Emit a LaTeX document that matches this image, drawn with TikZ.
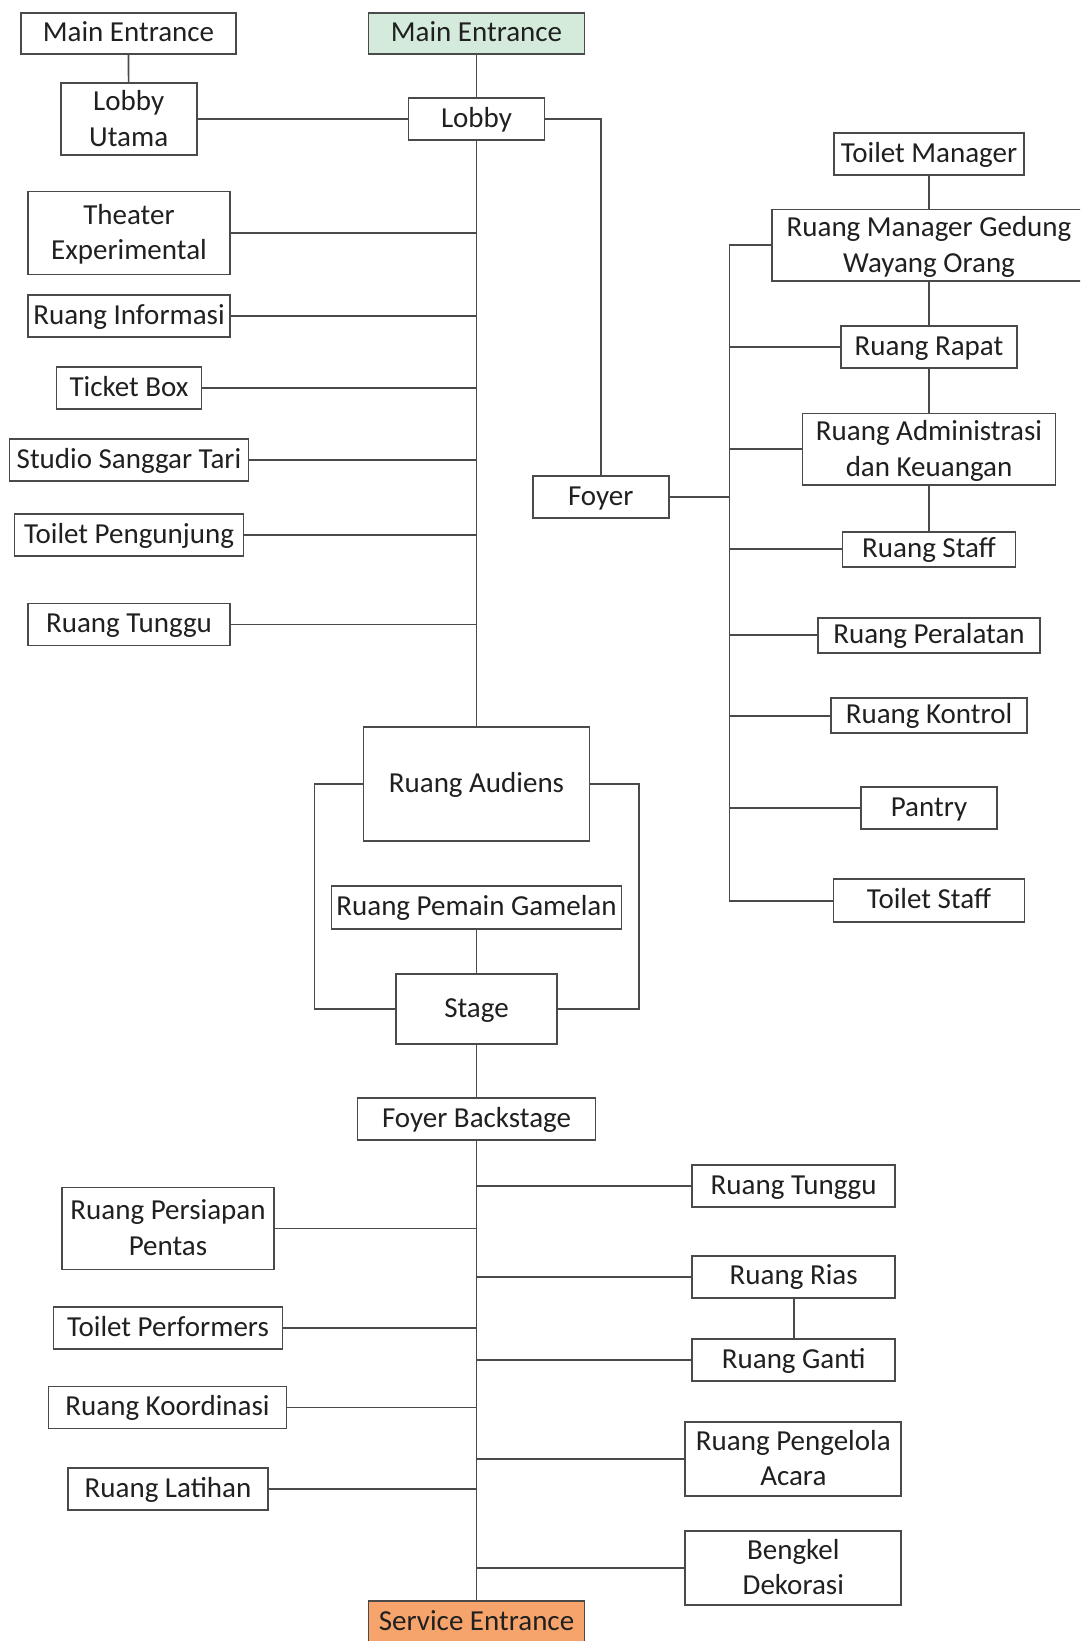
\documentclass[tikz,border=0pt]{standalone}
\usepackage{fontspec}
\setmainfont{Carlito}
\definecolor{bc}{HTML}{4A4A4A}
\definecolor{lc}{HTML}{4A4A4A}
\definecolor{tc}{HTML}{202020}
\definecolor{gfill}{HTML}{D4EBDC}
\definecolor{ofill}{HTML}{F7A46C}
\newcommand{\bstrut}{\rule[-9pt]{0pt}{34.5pt}}
\newcommand{\tstrut}{\rule[-9pt]{0pt}{36pt}}
\newcommand{\twoline}[2]{\tstrut#1\\#2\bstrut}
\begin{document}
\begin{tikzpicture}[x=1pt,y=-1pt,
  box/.style={draw=bc, line width=1.7pt, fill=white, text=tc, inner sep=0pt,
    align=center, font=\fontsize{29}{35.6}\selectfont,
    execute at begin node=\bstrut, execute at end node=\bstrut},
  link/.style={draw=lc, line width=1.7pt}]
\useasboundingbox (0,0) rectangle (1080,1641);
\clip (0,0) rectangle (1080,1641);
\fill[white] (0,0) rectangle (1080,1641);

% ---------- top ----------
\node[box, minimum width=215, minimum height=41] (meL) at (128.5,33.5) {Main Entrance};
\node[box, fill=gfill, minimum width=216, minimum height=41] (meG) at (476.5,33.5) {Main Entrance};
\node[box, minimum width=136, minimum height=72] (lobU) at (128.7,119.3) {\twoline{Lobby}{Utama}};
\node[box, minimum width=136, minimum height=42] (lob) at (476.5,119.3) {Lobby};

% ---------- left column ----------
\node[box, minimum width=202, minimum height=83] (theater) at (129,233) {\twoline{Theater}{Experimental}};
\node[box, minimum width=202, minimum height=42] (info) at (129,316) {Ruang Informasi};
\node[box, minimum width=145, minimum height=42] (ticket) at (129,388) {Ticket Box};
\node[box, minimum width=239, minimum height=42] (studio) at (129,460) {Studio Sanggar Tari};
\node[box, minimum width=229, minimum height=42] (toiletP) at (129,535) {Toilet Pengunjung};
\node[box, minimum width=202, minimum height=42] (tungguL) at (129,624.5) {Ruang Tunggu};

% ---------- centre ----------
\node[box, minimum width=226, minimum height=114] (aud) at (476.5,784) {Ruang Audiens};
\node[box, minimum width=290, minimum height=43] (gam) at (476.5,907.3) {Ruang Pemain Gamelan};
\node[box, minimum width=161, minimum height=70] (stage) at (476.5,1009) {Stage};
\node[box, minimum width=238, minimum height=42] (fb) at (476.5,1119) {Foyer Backstage};
\node[box, fill=ofill, minimum width=216, minimum height=42] (se) at (476.5,1622) {Service Entrance};
\coordinate (loopL) at (314.5,784);
\coordinate (loopR) at (639,784);

% ---------- bottom left ----------
\node[box, minimum width=212, minimum height=82] (persiapan) at (168,1228.5) {\twoline{Ruang Persiapan}{Pentas}};
\node[box, minimum width=229, minimum height=42] (tperf) at (168,1328) {Toilet Performers};
\node[box, minimum width=238, minimum height=42] (koord) at (167.5,1407.5) {Ruang Koordinasi};
\node[box, minimum width=200, minimum height=42] (latihan) at (168,1489) {Ruang Latihan};

% ---------- bottom right ----------
\node[box, minimum width=203, minimum height=42] (tungguR) at (793.7,1186.3) {Ruang Tunggu};
\node[box, minimum width=203, minimum height=42] (rias) at (793.7,1276.7) {Ruang Rias};
\node[box, minimum width=203, minimum height=42] (ganti) at (793.7,1360) {Ruang Ganti};
\node[box, minimum width=216, minimum height=74] (pengelola) at (793.3,1459) {\twoline{Ruang Pengelola}{Acara}};
\node[box, minimum width=216, minimum height=74] (bengkel) at (793.3,1568) {\twoline{Bengkel}{Dekorasi}};

% ---------- right ----------
\node[box, minimum width=136, minimum height=42] (foyer) at (600.7,497) {Foyer};
\node[box, minimum width=190, minimum height=42] (tm) at (929,154.3) {Toilet Manager};
\node[box, minimum width=314, minimum height=71] (rmg) at (929,245.3) {\twoline{Ruang Manager Gedung}{Wayang Orang}};
\node[box, minimum width=176, minimum height=42] (rapat) at (929,347.3) {Ruang Rapat};
\node[box, minimum width=253, minimum height=70] (admin) at (929,449.3) {\twoline{Ruang Administrasi}{dan Keuangan}};
\node[box, minimum width=173, minimum height=35] (staff) at (929,549.3) {Ruang Staff};
\node[box, minimum width=222, minimum height=35] (peral) at (929,635.3) {Ruang Peralatan};
\node[box, minimum width=196, minimum height=35] (kontrol) at (929,715.7) {Ruang Kontrol};
\node[box, minimum width=136, minimum height=42] (pantry) at (929,808.3) {Pantry};
\node[box, minimum width=191, minimum height=43] (tstaff) at (929,900.7) {Toilet Staff};
\coordinate (busT) at (729.4,245.3);
\coordinate (busB) at (729.4,900.7);

% ---------- connectors ----------
\path[link] (meL) -- (lobU);
\path[link] (meG) -- (lob);
\path[link] (lobU.east) -- (lobU.east -| lob.west);
\path[link] (lob.east) -| (foyer.north);
\path[link] (lob) -- (aud);
\foreach \n in {theater,info,ticket,studio,toiletP,tungguL}
  \path[link] (\n.east) -- (\n.east -| lob.south);
\path[link] (aud.west) -- (loopL) |- (stage.west);
\path[link] (aud.east) -- (loopR) |- (stage.east);
\path[link] (gam) -- (stage);
\path[link] (stage) -- (fb);
\path[link] (fb) -- (se);
\foreach \n in {persiapan,tperf,koord,latihan}
  \path[link] (\n.east) -- (\n.east -| fb.south);
\foreach \n in {tungguR,rias,ganti,pengelola,bengkel}
  \path[link] (\n.west) -- (\n.west -| fb.south);
\path[link] (rias) -- (ganti);
\path[link] (foyer.east) -- (foyer.east -| busT);
\path[link] (rmg.west) -- (busT) -- (busB) -- (tstaff.west);
\foreach \n in {rapat,admin,staff,peral,kontrol,pantry}
  \path[link] (\n.west) -- (\n.west -| busT);
\path[link] (tm) -- (rmg);
\path[link] (rmg) -- (rapat);
\path[link] (rapat) -- (admin);
\path[link] (admin) -- (staff);
\end{tikzpicture}
\end{document}
